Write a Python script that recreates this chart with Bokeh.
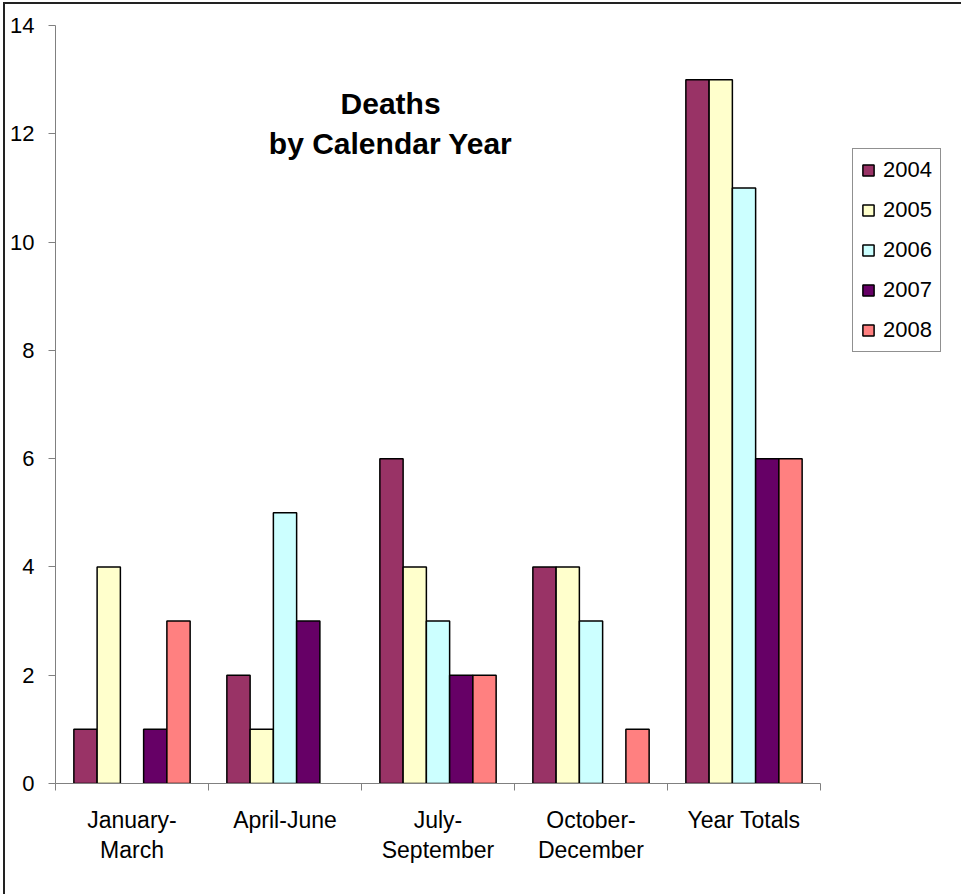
from bokeh.plotting import figure
from bokeh.models import (Range1d, LinearAxis, CategoricalAxis, FixedTicker,
                          Legend, LegendItem, Label, ColumnDataSource)
from bokeh.transform import dodge
from bokeh.embed import file_html
from bokeh.resources import INLINE

# Deaths per quarter, one series per calendar year
quarters = ["January-\nMarch", "April-June", "July-\nSeptember", "October-\nDecember", "Year Totals"]
years = ["2004", "2005", "2006", "2007", "2008"]
deaths_2004 = [1, 2, 6, 4, 13]
deaths_2005 = [4, 1, 4, 4, 13]
deaths_2006 = [0, 5, 3, 3, 11]
deaths_2007 = [1, 3, 2, 0, 6]
deaths_2008 = [3, 0, 2, 1, 6]
series = [deaths_2004, deaths_2005, deaths_2006, deaths_2007, deaths_2008]
colors = ["#993366", "#FFFFCC", "#CCFFFF", "#660066", "#FF8080"]
y_ticks = [0, 2, 4, 6, 8, 10, 12, 14]

FONT = "Liberation Sans"
AXIS_GREY = "#808080"

p = figure(frame_width=765, frame_height=758, x_range=quarters, y_range=Range1d(0, 14),
           output_backend="svg", toolbar_location=None,
           x_axis_location=None, y_axis_location="left",
           min_border_left=50, min_border_right=141,
           min_border_top=21, min_border_bottom=111)
p.styles = {"border-left": "2px solid #222222", "border-top": "2px solid #222222",
            "margin-left": "3px", "margin-top": "2px"}
p.outline_line_color = None
p.xgrid.grid_line_color = None
p.ygrid.grid_line_color = None
p.background_fill_color = "white"
p.border_fill_color = "white"

# value axis
yax = p.yaxis[0]
yax.ticker = FixedTicker(ticks=y_ticks)
yax.major_tick_out = 7
yax.major_tick_in = 0
yax.minor_tick_out = 0
yax.minor_tick_in = 0
yax.axis_line_color = AXIS_GREY
yax.major_tick_line_color = AXIS_GREY
yax.major_label_text_font = FONT
yax.major_label_text_font_size = "22px"
yax.major_label_text_color = "black"
yax.major_label_standoff = 14

# category boundaries: tick marks between the groups (factor i spans [i, i+1])
edge_ticks = list(range(len(quarters) + 1))
edge_axis = LinearAxis(ticker=FixedTicker(ticks=edge_ticks),
                       major_label_overrides={t: "" for t in edge_ticks},
                       major_tick_out=7, major_tick_in=0,
                       minor_tick_out=0, minor_tick_in=0,
                       axis_line_color=AXIS_GREY, major_tick_line_color=AXIS_GREY,
                       major_label_text_font_size="1px", major_label_standoff=0)
p.add_layout(edge_axis, "below")

# category names centred under each group
cat_axis = CategoricalAxis(axis_line_color=None, major_tick_line_color=None,
                           major_tick_out=0, major_tick_in=0,
                           major_label_text_font=FONT,
                           major_label_text_font_size="23px",
                           major_label_text_color="black",
                           major_label_text_line_height=1.17,
                           major_label_standoff=16)
p.add_layout(cat_axis, "below")

bar_w = 0.152
offsets = [-2 * bar_w, -bar_w, 0.0, bar_w, 2 * bar_w]
items = []
for year, vals, col, off in zip(years, series, colors, offsets):
    qs = [q for q, v in zip(quarters, vals) if v > 0]
    vs = [v for v in vals if v > 0]
    src = ColumnDataSource(dict(quarter=qs, deaths=vs))
    r = p.vbar(x=dodge("quarter", off, range=p.x_range), top="deaths", width=bar_w,
               source=src, fill_color=col, line_color="black", line_width=1.5)
    items.append(LegendItem(label=year, renderers=[r]))

legend = Legend(items=items, location=(32, 431),
                border_line_color="#222222", border_line_width=1,
                background_fill_color="white", background_fill_alpha=1,
                label_text_font=FONT, label_text_font_size="22px",
                label_text_color="black",
                glyph_width=14, glyph_height=14, label_height=20,
                label_standoff=8, spacing=14, padding=8, margin=0)
p.add_layout(legend, "right")

for txt, yv in [("Deaths", 12.56), ("by Calendar Year", 11.82)]:
    p.add_layout(Label(x=2.19, y=yv, text=txt,
                       text_align="center", text_baseline="alphabetic",
                       text_font=FONT, text_font_size="30px",
                       text_font_style="bold", text_color="black"))

open("out.html", "w").write(file_html(p, INLINE))
